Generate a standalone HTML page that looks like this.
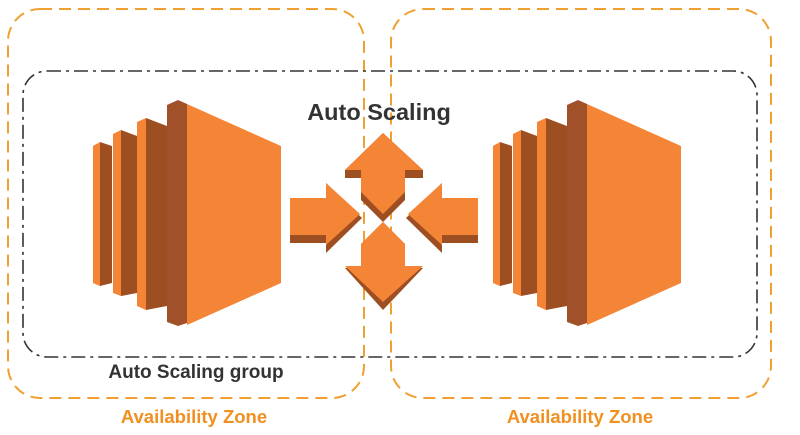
<!DOCTYPE html>
<html><head><meta charset="utf-8"><style>
body{margin:0;background:#fff;width:800px;height:430px;overflow:hidden}
</style></head><body>
<svg width="800" height="430" viewBox="0 0 800 430" xmlns="http://www.w3.org/2000/svg">
<rect x="8" y="9" width="356" height="389" rx="32" fill="none" stroke="#f0a030" stroke-width="2" stroke-dasharray="12,7"/>
<rect x="391" y="9" width="380" height="389" rx="32" fill="none" stroke="#f0a030" stroke-width="2" stroke-dasharray="12,7"/>
<rect x="23" y="71" width="734" height="286" rx="24" fill="none" stroke="#333" stroke-width="1.6" stroke-dasharray="14,5,3,5"/>
<defs>
<g id="srv">
<polygon points="93,146 100,142 106,146 106,283 100,286 93,283" fill="#f58536"/>
<polygon points="100,142 112,146 112,283 100,286" fill="#9d4f22"/>
<polygon points="113,134 121,130 127,134 127,293 121,296 113,293" fill="#f58536"/>
<polygon points="121,130 137,136 137,293 121,296" fill="#9d4f22"/>
<polygon points="137,122 146,118 152,122 152,306 146,310 137,306" fill="#f58536"/>
<polygon points="146,118 167,126 167,306 146,310" fill="#9d4f22"/>
<polygon points="167,105 178,100 187,104 187,323 178,326 167,322" fill="#a0512a"/>
<polygon points="178,100 281,146 281,283 187,325 187,104" fill="#f58536"/>
</g>
</defs>
<use href="#srv"/>
<use href="#srv" transform="translate(400,0)"/>
<g>
<polygon points="290,198 326,198 326,183 362,218 326,253 326,243 290,243" fill="#9d4f22"/>
<polygon points="290,198 326,198 326,183 360,214 326,245 326,235 290,235" fill="#f58536"/>
<polygon points="478,198 442,198 442,183 406,218 442,253 442,243 478,243" fill="#9d4f22"/>
<polygon points="478,198 442,198 442,183 408,214 442,245 442,235 478,235" fill="#f58536"/>
<polygon points="383,133 423,170 423,178 405,178 405,200 383,222 361,200 361,178 345,178 345,170" fill="#9d4f22"/>
<polygon points="383,133 423,170 405,170 405,192 383,214 361,192 361,170 345,170" fill="#f58536"/>
<polygon points="383,222 405,244 405,268 423,268 383,310 345,268 361,268 361,244" fill="#9d4f22"/>
<polygon points="383,222 405,244 405,266 423,266 383,302 345,266 361,266 361,244" fill="#f58536"/>
</g>
<text x="379" y="120" text-anchor="middle" font-family="Liberation Sans, sans-serif" font-weight="bold" font-size="23.5" fill="#333">Auto Scaling</text>
<text x="196" y="378" text-anchor="middle" font-family="Liberation Sans, sans-serif" font-weight="bold" font-size="19" fill="#333">Auto Scaling group</text>
<text x="194" y="423" text-anchor="middle" font-family="Liberation Sans, sans-serif" font-weight="bold" font-size="18.5" fill="#f09020">Availability Zone</text>
<text x="580" y="423" text-anchor="middle" font-family="Liberation Sans, sans-serif" font-weight="bold" font-size="18.5" fill="#f09020">Availability Zone</text>
</svg>
</body></html>
